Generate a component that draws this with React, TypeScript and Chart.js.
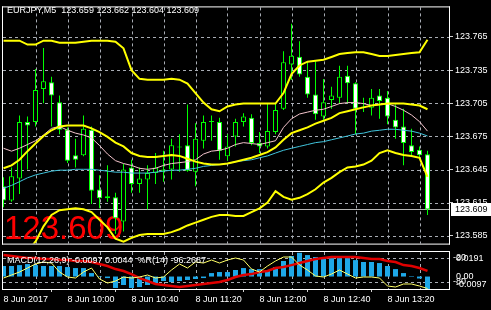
import { useEffect, useRef } from "react";
import { Chart, registerables } from "chart.js";

Chart.register(...registerables);

const FONT = "'Liberation Sans', Arial, Helvetica, sans-serif";

const SYMBOL = "EURJPY,M5";
const LAST_OHLC = ["123.659", "123.662", "123.604", "123.609"];
const SUB_LABEL = "MACD(12,26,9) -0.0097 0.0044  %R(14) -96.2687";
const BID = 123.609;
const BID_TEXT = "123.609";

const BAR_TIMES = [
  "09:20", "09:25", "09:30", "09:35", "09:40", "09:45", "09:50", "09:55",
  "10:00", "10:05", "10:10", "10:15", "10:20", "10:25", "10:30", "10:35",
  "10:40", "10:45", "10:50", "10:55", "11:00", "11:05", "11:10", "11:15",
  "11:20", "11:25", "11:30", "11:35", "11:40", "11:45", "11:50", "11:55",
  "12:00", "12:05", "12:10", "12:15", "12:20", "12:25", "12:30", "12:35",
  "12:40", "12:45", "12:50", "12:55", "13:00", "13:05", "13:10", "13:15",
  "13:20", "13:25", "13:30", "13:35", "13:40", "13:45",
];

const TIME_LABEL_BARS = [0, 8, 16, 24, 32, 40, 48];
const TIME_LABELS = ["8 Jun 2017", "8 Jun 10:00", "8 Jun 10:40", "8 Jun 11:20", "8 Jun 12:00", "8 Jun 12:40", "8 Jun 13:20"];
const GRID_BARS = [0, 4, 8, 12, 16, 20, 24, 28, 32, 36, 40, 44, 48, 52];

const PRICE_TICKS = [123.585, 123.615, 123.645, 123.675, 123.705, 123.735, 123.765];
const PRICE_MIN = 123.5781;
const PRICE_MAX = 123.7917;

const OPEN = [
  123.630, 123.617, 123.637, 123.688, 123.688, 123.718, 123.724, 123.706, 123.681, 123.658,
  123.658, 123.681, 123.627, 123.621, 123.620, 123.598, 123.647, 123.632, 123.636, 123.642,
  123.645, 123.645, 123.666, 123.667, 123.643, 123.671, 123.688, 123.688, 123.657, 123.675,
  123.688, 123.692, 123.669, 123.666, 123.679, 123.700, 123.740, 123.747, 123.729, 123.713,
  123.693, 123.708, 123.710, 123.730, 123.723, 123.702, 123.701, 123.712, 123.710, 123.690,
  123.684, 123.667, 123.663, 123.659,
];
const HIGH = [
  123.638, 123.647, 123.694, 123.693, 123.736, 123.755, 123.729, 123.712, 123.683, 123.673,
  123.694, 123.684, 123.640, 123.649, 123.624, 123.650, 123.654, 123.647, 123.649, 123.660,
  123.662, 123.673, 123.677, 123.704, 123.687, 123.694, 123.694, 123.692, 123.677, 123.691,
  123.696, 123.695, 123.679, 123.705, 123.705, 123.752, 123.777, 123.761, 123.743, 123.743,
  123.727, 123.720, 123.739, 123.739, 123.724, 123.710, 123.718, 123.718, 123.716, 123.704,
  123.700, 123.682, 123.666, 123.662,
];
const LOW = [
  123.611, 123.616, 123.623, 123.645, 123.684, 123.705, 123.684, 123.677, 123.651, 123.647,
  123.657, 123.614, 123.610, 123.616, 123.587, 123.589, 123.624, 123.624, 123.609, 123.632,
  123.634, 123.636, 123.643, 123.643, 123.630, 123.664, 123.671, 123.654, 123.653, 123.666,
  123.684, 123.667, 123.660, 123.664, 123.677, 123.699, 123.726, 123.729, 123.710, 123.690,
  123.690, 123.700, 123.705, 123.705, 123.677, 123.697, 123.694, 123.691, 123.686, 123.673,
  123.649, 123.658, 123.656, 123.604,
];
const CLOSE = [
  123.617, 123.639, 123.688, 123.685, 123.717, 123.725, 123.712, 123.681, 123.653, 123.654,
  123.682, 123.626, 123.619, 123.619, 123.601, 123.645, 123.632, 123.637, 123.642, 123.647,
  123.644, 123.667, 123.665, 123.644, 123.673, 123.688, 123.689, 123.662, 123.666, 123.688,
  123.693, 123.669, 123.666, 123.680, 123.699, 123.742, 123.748, 123.731, 123.713, 123.695,
  123.706, 123.712, 123.729, 123.723, 123.700, 123.701, 123.710, 123.707, 123.693, 123.683,
  123.669, 123.661, 123.658, 123.609,
];

const BB_UPPER = [
  123.7616, 123.7616, 123.7616, 123.7581, 123.7581, 123.7616, 123.7616, 123.7598, 123.7598, 123.7598,
  123.7607, 123.7616, 123.7616, 123.7616, 123.7607, 123.7547, 123.7349, 123.7271, 123.7263, 123.7263,
  123.7263, 123.7271, 123.7263, 123.7228, 123.7142, 123.7056, 123.6996, 123.6978, 123.7021, 123.7039,
  123.7047, 123.7047, 123.7047, 123.7047, 123.7047, 123.7142, 123.7314, 123.7392, 123.7426, 123.7435,
  123.7443, 123.7469, 123.7495, 123.7504, 123.7512, 123.7512, 123.7495, 123.7478, 123.7478, 123.7486,
  123.7495, 123.7504, 123.7512, 123.7624,
];
const BB_MIDDLE = [
  123.6462, 123.6488, 123.6539, 123.6617, 123.6686, 123.6754, 123.6806, 123.6841, 123.6849, 123.6849,
  123.6849, 123.6823, 123.6789, 123.6746, 123.6694, 123.6660, 123.6600, 123.6574, 123.6565, 123.6565,
  123.6574, 123.6582, 123.6574, 123.6548, 123.6522, 123.6505, 123.6496, 123.6496, 123.6505, 123.6522,
  123.6539, 123.6557, 123.6582, 123.6608, 123.6651, 123.6720, 123.6780, 123.6806, 123.6832, 123.6866,
  123.6892, 123.6918, 123.6961, 123.6978, 123.6996, 123.7013, 123.7030, 123.7039, 123.7047, 123.7047,
  123.7047, 123.7039, 123.7030, 123.6996,
];
const BB_LOWER = [
  123.5520, 123.5570, 123.5630, 123.5710, 123.5799, 123.5937, 123.6040, 123.6083, 123.6092, 123.6100,
  123.6092, 123.6066, 123.5997, 123.5928, 123.5825, 123.5799, 123.5833, 123.5859, 123.5868, 123.5868,
  123.5868, 123.5885, 123.5911, 123.5945, 123.5971, 123.5997, 123.6023, 123.6040, 123.6040, 123.6031,
  123.6031, 123.6066, 123.6100, 123.6152, 123.6255, 123.6203, 123.6178, 123.6195, 123.6229, 123.6272,
  123.6333, 123.6376, 123.6427, 123.6470, 123.6479, 123.6496, 123.6531, 123.6600, 123.6625, 123.6600,
  123.6582, 123.6574, 123.6557, 123.6384,
];
const MA_FAST = [
  123.6643, 123.6617, 123.6643, 123.6677, 123.6711, 123.6763, 123.6823, 123.6841, 123.6806, 123.6780,
  123.6763, 123.6737, 123.6668, 123.6591, 123.6531, 123.6505, 123.6488, 123.6462, 123.6453, 123.6462,
  123.6488, 123.6505, 123.6513, 123.6522, 123.6539, 123.6591, 123.6617, 123.6625, 123.6643, 123.6677,
  123.6694, 123.6686, 123.6677, 123.6694, 123.6711, 123.6832, 123.6910, 123.6953, 123.6970, 123.6987,
  123.6996, 123.7021, 123.7047, 123.7056, 123.7056, 123.7047, 123.7030, 123.7039, 123.7047, 123.7021,
  123.6987, 123.6944, 123.6884, 123.6798,
];
const MA_SLOW = [
  123.6281, 123.6307, 123.6341, 123.6376, 123.6402, 123.6419, 123.6436, 123.6445, 123.6445, 123.6453,
  123.6453, 123.6453, 123.6445, 123.6436, 123.6427, 123.6427, 123.6419, 123.6419, 123.6419, 123.6427,
  123.6436, 123.6445, 123.6445, 123.6453, 123.6462, 123.6479, 123.6488, 123.6496, 123.6505, 123.6522,
  123.6531, 123.6539, 123.6557, 123.6574, 123.6600, 123.6625, 123.6643, 123.6660, 123.6677, 123.6694,
  123.6703, 123.6720, 123.6737, 123.6754, 123.6772, 123.6780, 123.6798, 123.6806, 123.6815, 123.6815,
  123.6806, 123.6798, 123.6780, 123.6754,
];

const MACD_MAIN = [
  0.0082, 0.0082, 0.0089, 0.0097, 0.0089, 0.0082, 0.0082, 0.0082, 0.0074, 0.0066,
  0.0066, 0.0027, 0.0004, -0.0012, -0.0089, -0.0066, -0.0089, -0.0082, -0.0066, -0.0058,
  -0.0035, -0.0043, -0.0035, -0.0027, -0.0019, -0.0012, 0.0027, 0.0035, 0.0035, 0.0051,
  0.0066, 0.0058, 0.0058, 0.0051, 0.0074, 0.0121, 0.0160, 0.0185, 0.0167, 0.0152,
  0.0144, 0.0144, 0.0144, 0.0144, 0.0128, 0.0113, 0.0113, 0.0105, 0.0082, 0.0058,
  0.0027, 0.0004, -0.0015, -0.0097,
];
const MACD_SIGNAL = [
  0.0167, 0.0160, 0.0152, 0.0144, 0.0144, 0.0136, 0.0136, 0.0128, 0.0128, 0.0121,
  0.0121, 0.0113, 0.0097, 0.0082, 0.0058, 0.0043, 0.0019, -0.0012, -0.0035, -0.0058,
  -0.0066, -0.0074, -0.0082, -0.0074, -0.0066, -0.0058, -0.0051, -0.0043, -0.0027, -0.0004,
  0.0012, 0.0019, 0.0035, 0.0043, 0.0066, 0.0074, 0.0089, 0.0105, 0.0121, 0.0136,
  0.0144, 0.0152, 0.0152, 0.0152, 0.0152, 0.0144, 0.0136, 0.0136, 0.0121, 0.0113,
  0.0089, 0.0082, 0.0066, 0.0044,
];
const WPR = [
  -70, -62.5, -55, -45, -35, -30, -32.5, -55, -67.5, -70,
  -55, -45, -72.5, -82.5, -77.5, -67.5, -70, -67.5, -62.5, -70,
  -67.5, -50, -35, -45, -30, -32.5, -25, -32.5, -25, -20,
  -25, -47.5, -55, -40, -27.5, -17.5, -17.5, -37.5, -50, -65,
  -67.5, -60, -50, -60, -70, -67.5, -67.5, -70, -90, -92.5,
  -85, -85, -90, -96.2687,
];

const MACD_MAX = 0.0191;
const MACD_MIN = -0.0097;
const MACD_LABELS = ["0.0191", "0.00", "-0.0097"];
const WPR_LEVELS = [-20, -80];
const WPR_MIN = -97.5;
const WPR_MAX = -5;

const X_MIN = -0.0625;
const X_MAX = 55.6875;

const GRID = "#a8acb4";
const DASH = [3, 3];

const pts = (arr: number[]) => arr.map((v, i) => ({ x: i, y: v }));

const framePlugin = {
  id: "frame",
  afterDraw(chart: any) {
    const { ctx, chartArea: a } = chart;
    ctx.save();
    ctx.fillStyle = "#ffffff";
    const w = a.right - a.left + 2;
    const h = a.bottom - a.top + 2;
    ctx.fillRect(a.left - 1, a.top - 1, w, 1);
    ctx.fillRect(a.left - 1, a.bottom, w, 1);
    ctx.fillRect(a.left - 1, a.top - 1, 1, h);
    ctx.fillRect(a.right, a.top - 1, 1, h);
    ctx.restore();
  },
};

// dashed grid drawn from the library's own scale ticks
const makeGridPlugin = (rows: (chart: any) => number[]) => ({
  id: "dashGrid",
  beforeDatasetsDraw(chart: any) {
    const { ctx, chartArea: a, scales } = chart;
    ctx.save();
    ctx.strokeStyle = GRID;
    ctx.lineWidth = 1;
    ctx.setLineDash(DASH);
    scales.x.ticks.forEach((t: any) => {
      if (t.value === 0) return;
      const x = Math.round(scales.x.getPixelForValue(t.value)) + 0.5;
      ctx.beginPath();
      ctx.moveTo(x, a.top);
      ctx.lineTo(x, a.bottom);
      ctx.stroke();
    });
    rows(chart).forEach((yv) => {
      const y = Math.round(yv) + 0.5;
      ctx.beginPath();
      ctx.moveTo(a.left, y);
      ctx.lineTo(a.right, y);
      ctx.stroke();
    });
    ctx.restore();
  },
});

export default function App() {
  const mainRef = useRef<HTMLCanvasElement>(null);
  const subRef = useRef<HTMLCanvasElement>(null);

  useEffect(() => {
    if (!mainRef.current || !subRef.current) return;

    const mainDecor = {
      id: "mainDecor",
      beforeDatasetsDraw(chart: any) {
        const { ctx, chartArea: a, scales } = chart;
        ctx.save();
        ctx.fillStyle = "#ff0000";
        ctx.font = `33px ${FONT}`;
        ctx.textBaseline = "alphabetic";
        ctx.textAlign = "left";
        ctx.fillText(BID_TEXT, 4, 239);
        const yb = Math.round(scales.y.getPixelForValue(BID)) + 0.5;
        ctx.strokeStyle = "#b4b4b4";
        ctx.lineWidth = 1;
        ctx.beginPath();
        ctx.moveTo(a.left, yb);
        ctx.lineTo(a.right, yb);
        ctx.stroke();
        ctx.restore();
      },
      afterDraw(chart: any) {
        const { ctx, scales } = chart;
        ctx.save();
        ctx.font = `9px ${FONT}`;
        ctx.fillStyle = "#ffffff";
        ctx.textBaseline = "alphabetic";
        ctx.textAlign = "left";
        ctx.fillText(`${SYMBOL}  ${LAST_OHLC.join(" ")}`, 7, 13);
        const yb = Math.round(scales.y.getPixelForValue(BID));
        ctx.fillRect(451, yb - 6, 40, 13);
        ctx.fillStyle = "#000000";
        ctx.textBaseline = "middle";
        ctx.fillText(BID_TEXT, 455, yb + 1);
        ctx.restore();
      },
    };

    const main = new Chart(mainRef.current, {
      type: "bar",
      data: {
        datasets: [
          { type: "line", label: "BB upper", data: pts(BB_UPPER), borderColor: "#ffff00", borderWidth: 2, pointRadius: 0, order: 0 } as any,
          { type: "line", label: "BB middle", data: pts(BB_MIDDLE), borderColor: "#ffff00", borderWidth: 2, pointRadius: 0, order: 0 } as any,
          { type: "line", label: "BB lower", data: pts(BB_LOWER), borderColor: "#ffff00", borderWidth: 2, pointRadius: 0, order: 0 } as any,
          { type: "line", label: "MA fast", data: pts(MA_FAST), borderColor: "#f4c4cc", borderWidth: 1, pointRadius: 0, order: 0.5 } as any,
          { type: "line", label: "MA slow", data: pts(MA_SLOW), borderColor: "#40c4dc", borderWidth: 1, pointRadius: 0, order: 0.5 } as any,
          {
            type: "bar",
            label: "body",
            data: OPEN.map((o, i) => ({ x: i, y: [o, CLOSE[i]] })),
            backgroundColor: OPEN.map((o, i) => (CLOSE[i] >= o ? "#000000" : "#ffffff")),
            borderColor: "#00ff00",
            borderWidth: 1,
            borderSkipped: false,
            barThickness: 5,
            grouped: false,
            inflateAmount: 0,
            order: 1,
          } as any,
          {
            type: "bar",
            label: "wick",
            data: LOW.map((l, i) => ({ x: i, y: [l, HIGH[i]] })),
            backgroundColor: "#00ff00",
            borderWidth: 0,
            barThickness: 1,
            grouped: false,
            inflateAmount: 0,
            order: 2,
          } as any,
        ],
      },
      options: {
        responsive: false,
        animation: false,
        devicePixelRatio: 1,
        events: [],
        layout: { padding: { left: 3, top: 2, right: 0, bottom: 1 } },
        plugins: { legend: { display: false }, tooltip: { enabled: false } },
        scales: {
          x: {
            type: "linear",
            min: X_MIN,
            max: X_MAX,
            offset: false,
            afterBuildTicks: (s: any) => {
              s.ticks = GRID_BARS.map((v) => ({ value: v }));
            },
            afterFit: (s: any) => {
              s.height = 0;
            },
            ticks: { display: false },
            grid: { display: false },
            border: { display: false },
          },
          y: {
            type: "linear",
            position: "right",
            min: PRICE_MIN,
            max: PRICE_MAX,
            afterBuildTicks: (s: any) => {
              s.ticks = PRICE_TICKS.map((v) => ({ value: v }));
            },
            afterFit: (s: any) => {
              s.width = 42;
            },
            ticks: {
              color: "#ffffff",
              font: { family: FONT, size: 9 },
              padding: 2,
              callback: (v: any) => Number(v).toFixed(3),
            },
            grid: { drawOnChartArea: false, color: "#d0d0d0", tickColor: "#d0d0d0", tickLength: 4, lineWidth: 1 },
            border: { display: false },
          },
        },
      } as any,
      plugins: [
        makeGridPlugin((c: any) => c.scales.y.ticks.map((t: any) => c.scales.y.getPixelForValue(t.value))),
        mainDecor,
        framePlugin,
      ],
    });

    const subDecor = {
      id: "subDecor",
      afterDraw(chart: any) {
        const { ctx, chartArea: a, scales } = chart;
        ctx.save();
        ctx.font = `9px ${FONT}`;
        ctx.fillStyle = "#ffffff";
        ctx.textAlign = "left";
        ctx.textBaseline = "middle";
        ctx.fillText(SUB_LABEL, 7, a.top + 9);
        const x0 = a.right + 4;
        ctx.fillText(MACD_LABELS[0], x0 + 3, a.top + 7);
        ctx.fillText(MACD_LABELS[1], x0 + 3, scales.m.getPixelForValue(0));
        ctx.fillText(MACD_LABELS[2], x0 + 3, a.bottom - 4);
        WPR_LEVELS.forEach((lv) => {
          ctx.fillText(String(lv), x0, scales.w.getPixelForValue(lv));
        });
        ctx.restore();
      },
    };

    const sub = new Chart(subRef.current, {
      type: "bar",
      data: {
        datasets: [
          { type: "line", label: "%R(14)", data: pts(WPR), yAxisID: "w", borderColor: "#ffff66", borderWidth: 1, pointRadius: 0, order: 0 } as any,
          { type: "line", label: "Signal", data: pts(MACD_SIGNAL), yAxisID: "m", borderColor: "#e00000", borderWidth: 2.5, pointRadius: 0, order: 1 } as any,
          {
            type: "bar",
            label: "MACD",
            data: pts(MACD_MAIN),
            yAxisID: "m",
            backgroundColor: "#1ea8e8",
            borderWidth: 0,
            barThickness: 5,
            grouped: false,
            inflateAmount: 0,
            order: 2,
          } as any,
        ],
      },
      options: {
        responsive: false,
        animation: false,
        devicePixelRatio: 1,
        events: [],
        layout: { padding: { left: 3, top: 1, right: 0, bottom: 0 } },
        plugins: { legend: { display: false }, tooltip: { enabled: false } },
        scales: {
          x: {
            type: "linear",
            min: X_MIN,
            max: X_MAX,
            offset: false,
            afterBuildTicks: (s: any) => {
              s.ticks = GRID_BARS.map((v) => ({ value: v }));
            },
            afterFit: (s: any) => {
              s.height = 21;
            },
            ticks: {
              color: "#ffffff",
              font: { family: FONT, size: 9 },
              autoSkip: false,
              maxRotation: 0,
              align: "start",
              padding: 2,
              callback: (v: any) => {
                const k = TIME_LABEL_BARS.indexOf(Number(v));
                return k >= 0 ? TIME_LABELS[k] : "";
              },
            },
            grid: {
              drawOnChartArea: false,
              color: "rgba(0,0,0,0)",
              tickColor: (c: any) => (c.tick && TIME_LABEL_BARS.indexOf(c.tick.value) >= 0 ? "#d0d0d0" : "rgba(0,0,0,0)"),
              tickLength: 3,
              lineWidth: 1,
            },
            border: { display: false },
          },
          m: {
            type: "linear",
            position: "right",
            min: MACD_MIN,
            max: MACD_MAX,
            afterFit: (s: any) => {
              s.width = 42;
            },
            ticks: { display: false },
            grid: { display: false },
            border: { display: false },
          },
          w: {
            type: "linear",
            display: false,
            min: WPR_MIN,
            max: WPR_MAX,
          },
        },
      } as any,
      plugins: [
        makeGridPlugin((c: any) => WPR_LEVELS.map((lv) => c.scales.w.getPixelForValue(lv))),
        subDecor,
        framePlugin,
      ],
    });

    return () => {
      main.destroy();
      sub.destroy();
    };
  }, []);

  return (
    <div
      style={{
        position: "fixed",
        left: 0,
        top: 0,
        width: 491,
        height: 310,
        background: "#000000",
        overflow: "hidden",
      }}
      data-bars={BAR_TIMES.length}
    >
      <canvas ref={mainRef} width={491} height={251} style={{ position: "absolute", left: 0, top: 0 }} />
      <canvas ref={subRef} width={491} height={59} style={{ position: "absolute", left: 0, top: 251 }} />
    </div>
  );
}
